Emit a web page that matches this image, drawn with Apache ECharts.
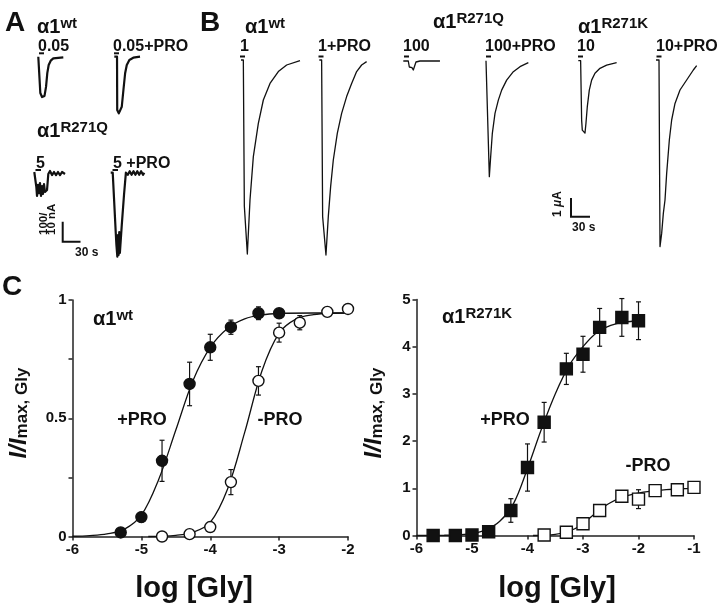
<!DOCTYPE html>
<html><head><meta charset="utf-8">
<script src="https://cdn.jsdelivr.net/npm/echarts@6/dist/echarts.min.js"></script>
<style>html,body{margin:0;padding:0;background:#fff}#c{width:720px;height:603px}</style>
</head><body><div id="c"></div>
<script>
// ---------- Panel C, left (alpha1 wt) ----------
const wtLogGlyPro = [-5.3, -5, -4.7, -4.3, -4, -3.7, -3.3, -3];
const wtRespPro   = [0.017, 0.082, 0.32, 0.645, 0.80, 0.885, 0.944, 0.944];
const wtSemPro    = [0, 0.02, 0.087, 0.092, 0.055, 0.03, 0.027, 0.015];
const wtLogGlyCtl = [-4.7, -4.3, -4, -3.7, -3.3, -3, -2.7, -2.3, -2];
const wtRespCtl   = [0.0, 0.01, 0.04, 0.23, 0.658, 0.862, 0.904, 0.95, 0.962];
const wtSemCtl    = [0, 0, 0, 0.053, 0.06, 0.04, 0.03, 0, 0];
const wtFitXPro = [-6, -5.75, -5.5, -5.25, -5, -4.75, -4.5, -4.25, -4, -3.75, -3.5, -3.25, -3, -2.5, -2];
const wtFitYPro = [0.001, 0.004, 0.011, 0.03, 0.09, 0.24, 0.45, 0.66, 0.8, 0.88, 0.92, 0.937, 0.943, 0.945, 0.945];
const wtFitXCtl = [-4.9, -4.5, -4.25, -4, -3.75, -3.5, -3.25, -3, -2.75, -2.5, -2.25, -2];
const wtFitYCtl = [0.0, 0.005, 0.018, 0.06, 0.2, 0.44, 0.7, 0.86, 0.92, 0.938, 0.944, 0.945];

// ---------- Panel C, right (alpha1 R271K) ----------
const kLogGlyPro = [-5.7, -5.3, -5, -4.7, -4.3, -4, -3.7, -3.3, -3, -2.7, -2.3, -2];
const kRespPro   = [0, 0, 0.01, 0.08, 0.53, 1.44, 2.40, 3.53, 3.84, 4.41, 4.62, 4.55];
const kSemPro    = [0, 0, 0, 0, 0.25, 0.5, 0.42, 0.33, 0.38, 0.4, 0.4, 0.4];
const kLogGlyCtl = [-3.7, -3.3, -3, -2.7, -2.3, -2, -1.7, -1.3, -1];
const kRespCtl   = [0.01, 0.07, 0.25, 0.53, 0.83, 0.77, 0.95, 0.97, 1.02];
const kSemCtl    = [0, 0, 0, 0, 0, 0.2, 0, 0, 0];
const kFitXPro = [-6, -5.5, -5.25, -5, -4.75, -4.5, -4.25, -4, -3.75, -3.5, -3.25, -3, -2.75, -2.5, -2.25, -2];
const kFitYPro = [0, 0.005, 0.015, 0.04, 0.12, 0.3, 0.68, 1.42, 2.25, 3.0, 3.6, 4.0, 4.3, 4.45, 4.52, 4.55];
const kFitXCtl = [-3.9, -3.5, -3.25, -3, -2.75, -2.5, -2.25, -2, -1.75, -1.5, -1.25, -1];
const kFitYCtl = [0, 0.025, 0.09, 0.25, 0.5, 0.7, 0.83, 0.9, 0.94, 0.97, 0.99, 1.0];

// ---------- Panel A traces (time s, current nA) ----------
const aWtT    = [0, 2.7, 3.2, 5.9, 9.8, 12.2, 14.2, 16.4, 19.6, 23.7, 39.5];
const aWtI    = [0, 0, -202, -224, -218, -168, -91, -46, -22, -9, -3.5];
const aWtProT = [0, 4.3, 4.6, 7.1, 11.8, 14.4, 17.1, 19.7, 23.8, 30, 40.6];
const aWtProI = [0, 0, -296, -315, -278, -185, -92, -46, -18, -5.6, 0];
const aQT     = [0, 2.7, 3.2, 4.3, 5.8, 7.4, 9, 10.6, 12.2, 13.7, 15.3, 16.9, 20.1, 22.1, 24.8, 28, 31.1, 34.3, 37.4, 40.6, 43.8, 48.5];
const aQI     = [0, 0, -8.3, -13.3, -7.2, -11.7, -6.1, -13.3, -7.8, -12.2, -6.7, -11.1, -10, -1.1, 0.6, -1.7, 0, -1.7, 0, -1.7, 0, -1.1];
const aQProT  = [0, 3.2, 8, 9, 10.5, 11.5, 12.5, 13.5, 14.5, 17.5, 21, 24, 27, 30, 33, 36, 39, 42, 45, 48, 51, 53];
const aQProI  = [0, 0, -33.5, -40, -46.7, -34.6, -45.7, -33, -44.6, -29, -12.4, 0, -1.2, 0.8, -1.2, 0.8, -1.2, 0.8, -1.2, 0.8, -1.2, 0];

// ---------- Panel B traces (time s, current uA) ----------
const bWtT    = [0, 3.5, 5, 9.5, 13.5, 18.5, 26, 33.5, 43.5, 56, 68.5, 88.5];
const bWtI    = [0, 0, -7.3, -9.7, -7, -4.83, -3.17, -2, -1.17, -0.58, -0.25, -0.03];
const bWtProT = [0, 3.5, 5, 10, 13.5, 17, 21, 27, 33.5, 41, 48.5, 56, 63.5, 71];
const bWtProI = [0, 0, -7.83, -9.75, -7.83, -6.33, -5, -3.67, -2.67, -1.83, -1.17, -0.58, -0.25, -0.08];
const bQT     = [0, 7.5, 9, 13, 15, 17.5, 19, 25, 55];
const bQI     = [0, 0, -0.3, -0.33, -0.45, -0.45, -0.05, 0, 0];
const bQProT  = [0, 2, 5, 7, 9.5, 13.5, 18.5, 23.5, 31, 41, 51, 63.5];
const bQProI  = [0, 0, -5.8, -4.8, -3.63, -2.63, -1.97, -1.47, -0.97, -0.55, -0.3, -0.1];
const bKT     = [0, 3.5, 5, 6, 10, 11.5, 13.5, 16.5, 20, 25, 32.5, 42.5, 57.5];
const bKI     = [0, 0, -2.97, -3.47, -3.62, -3.13, -2.3, -1.47, -0.97, -0.63, -0.38, -0.22, -0.1];
const bKProT  = [0, 4.5, 6, 8.5, 11, 13.5, 16, 20, 23.5, 28.5, 36, 46, 56, 61];
const bKProI  = [0, 0, -9.33, -8.67, -7.67, -7, -5.67, -4, -3, -2.17, -1.5, -1, -0.5, -0.28];

// tick labels
const xTicksLeft = [-6, -5, -4, -3, -2];
const xTicksRight = [-6, -5, -4, -3, -2, -1];
const yLabelsLeft = {0: '0', 0.5: '0.5', 1: '1'};

// ---------------------------------------------------------------
const FONT = '"Liberation Sans", Arial, Helvetica, sans-serif';
const INK = '#111';
const zip = (a, b) => a.map((v, i) => [v, b[i]]);
const errData = (x, y, e) => x.map((v, i) => [v, y[i] - e[i], y[i] + e[i]]).filter((d, i) => e[i] > 0);

const grids = [], xAxes = [], yAxes = [], series = [];

function axisCommon() {
  return {
    axisLine: {show: true, onZero: false, lineStyle: {color: '#222', width: 1.5}},
    axisTick: {show: true, length: 4, inside: false, lineStyle: {color: '#222', width: 1.5}},
    splitLine: {show: false},
    axisLabel: {color: INK, fontWeight: 'bold', fontSize: 15, fontFamily: FONT, margin: 6}
  };
}

// Panel C grids
grids.push({left: 72.5, top: 300, width: 275.5, height: 236.5});
xAxes.push(Object.assign(axisCommon(), {gridIndex: 0, type: 'value', min: xTicksLeft[0], max: xTicksLeft[xTicksLeft.length - 1], interval: 1}));
yAxes.push(Object.assign(axisCommon(), {gridIndex: 0, type: 'value', min: 0, max: 1, interval: 0.25}));
yAxes[0].axisLabel.formatter = v => (yLabelsLeft[v] !== undefined ? yLabelsLeft[v] : '');
grids.push({left: 416.5, top: 299.5, width: 277.5, height: 236});
xAxes.push(Object.assign(axisCommon(), {gridIndex: 1, type: 'value', min: xTicksRight[0], max: xTicksRight[xTicksRight.length - 1], interval: 1}));
yAxes.push(Object.assign(axisCommon(), {gridIndex: 1, type: 'value', min: 0, max: 5, interval: 1}));

function fitLine(idx, x, y) {
  series.push({type: 'line', xAxisIndex: idx, yAxisIndex: idx, data: zip(x, y), showSymbol: false,
    smooth: 0.35, clip: false, lineStyle: {color: INK, width: 1.3}, z: 2, silent: true});
}
function errBars(idx, x, y, e) {
  series.push({type: 'custom', xAxisIndex: idx, yAxisIndex: idx, data: errData(x, y, e), clip: false, z: 3, silent: true,
    renderItem: (params, api) => {
      const p1 = api.coord([api.value(0), api.value(1)]);
      const p2 = api.coord([api.value(0), api.value(2)]);
      const st = {stroke: INK, lineWidth: 1.2};
      const w = 2.5;
      return {type: 'group', children: [
        {type: 'line', shape: {x1: p1[0], y1: p1[1], x2: p2[0], y2: p2[1]}, style: st},
        {type: 'line', shape: {x1: p1[0] - w, y1: p1[1], x2: p1[0] + w, y2: p1[1]}, style: st},
        {type: 'line', shape: {x1: p2[0] - w, y1: p2[1], x2: p2[0] + w, y2: p2[1]}, style: st}
      ]};
    }});
}
function points(idx, x, y, symbol, size, filled) {
  series.push({type: 'scatter', xAxisIndex: idx, yAxisIndex: idx, data: zip(x, y), symbol: symbol, symbolSize: size,
    clip: false, z: 5, silent: true,
    itemStyle: {color: filled ? INK : '#fff', borderColor: INK, borderWidth: 1.4, opacity: 1}});
}
fitLine(0, wtFitXPro, wtFitYPro); fitLine(0, wtFitXCtl, wtFitYCtl);
errBars(0, wtLogGlyPro, wtRespPro, wtSemPro); errBars(0, wtLogGlyCtl, wtRespCtl, wtSemCtl);
points(0, wtLogGlyPro, wtRespPro, 'circle', 11, true); points(0, wtLogGlyCtl, wtRespCtl, 'circle', 11, false);
fitLine(1, kFitXPro, kFitYPro); fitLine(1, kFitXCtl, kFitYCtl);
errBars(1, kLogGlyPro, kRespPro, kSemPro); errBars(1, kLogGlyCtl, kRespCtl, kSemCtl);
points(1, kLogGlyPro, kRespPro, 'rect', 12, true); points(1, kLogGlyCtl, kRespCtl, 'rect', 12, false);

// Trace grids: x0/base are the pixel position of the trace start; sx = s per px, sy = current per px
function trace(t, I, x0, base, sx, sy, lw) {
  const gi = grids.length;
  const tMax = Math.max(...t);
  const iMin = Math.min(...I), iMax = Math.max(0, ...I);
  const pad = 4;
  grids.push({left: x0 - pad, top: base - iMax / sy - pad, width: tMax / sx + 2 * pad, height: (iMax - iMin) / sy + 2 * pad});
  xAxes.push({gridIndex: gi, type: 'value', show: false, min: -pad * sx, max: tMax + pad * sx});
  yAxes.push({gridIndex: gi, type: 'value', show: false, min: iMin - pad * sy, max: iMax + pad * sy});
  series.push({type: 'line', xAxisIndex: gi, yAxisIndex: gi, data: zip(t, I), showSymbol: false, clip: false,
    lineStyle: {color: INK, width: lw, join: 'round'}, silent: true});
}
const sxA = 30 / 19, syAwt = 100 / 18, syAq = 10 / 18;
const sxB = 1.5, syB = 0.05;
trace(aWtT, aWtI, 38.3, 56.7, sxA, syAwt, 2.2);
trace(aWtProT, aWtProI, 114.3, 56.7, sxA, syAwt, 2.2);
trace(aQT, aQI, 34.3, 172, sxA, syAq, 2.2);
trace(aQProT, aQProI, 110.7, 172.7, sxA, syAq, 2.2);
trace(bWtT, bWtI, 241, 60, sxB, syB, 1.3);
trace(bWtProT, bWtProI, 319.3, 60, sxB, syB, 1.3);
trace(bQT, bQI, 403.3, 61, sxB, syB, 1.3);
trace(bQProT, bQProI, 486, 60.7, sxB, syB, 1.3);
trace(bKT, bKI, 578.3, 60.7, sxB, syB, 1.3);
trace(bKProT, bKProI, 656, 60, sxB, syB, 1.3);

// ---------- annotations ----------
const g = [];
function txt(x, y, text, size, opts) {
  opts = opts || {};
  g.push({type: 'text', x: x, y: y, rotation: opts.rot || 0, silent: true, z: 10,
    style: {text: text, fontSize: size, fontWeight: opts.weight || 'bold', fontStyle: opts.style || 'normal',
      fontFamily: FONT, fill: INK, align: opts.align || 'left', verticalAlign: opts.va || 'middle',
      textAlign: opts.align || 'left', textVerticalAlign: opts.va || 'middle', rich: opts.rich}});
}
function line(points, w) {
  g.push({type: 'polyline', silent: true, z: 10, shape: {points: points}, style: {stroke: INK, lineWidth: w, fill: null}});
}
const supRich = (base, sup) => ({
  a: {fontSize: base, fontWeight: 'bold', fontFamily: FONT, fill: INK, lineHeight: base + 2},
  s: {fontSize: sup, fontWeight: 'bold', fontFamily: FONT, fill: INK, lineHeight: 9, verticalAlign: 'top'},
  r: {fontSize: sup, fontWeight: 'bold', fontFamily: FONT, fill: INK, lineHeight: sup + 2, verticalAlign: 'top'}
});
// panel letters
txt(5, 23, 'A', 28); txt(200, 23, 'B', 28); txt(2, 287, 'C', 28);
// construct names
txt(37, 27, '{a|α1}{s|wt}', 20, {rich: supRich(20, 15)});
txt(37, 131, '{a|α1}{r|R271Q}', 20, {rich: supRich(20, 15)});
txt(245, 27, '{a|α1}{s|wt}', 20, {rich: supRich(20, 15)});
txt(433, 22, '{a|α1}{r|R271Q}', 20, {rich: supRich(20, 15)});
txt(578, 27, '{a|α1}{r|R271K}', 20, {rich: supRich(20, 15)});
txt(93, 319, '{a|α1}{s|wt}', 20, {rich: supRich(20, 15)});
txt(442, 317, '{a|α1}{r|R271K}', 20, {rich: supRich(20, 15)});
// application labels + bars
const appLabels = [
  ['0.05', 38, 47, 39, 44, 53.3], ['0.05+PRO', 113, 47, 114, 119, 53.3],
  ['5', 36, 164, 35.5, 41, 170], ['5 +PRO', 113, 164, 112.5, 118, 170],
  ['1', 240, 47, 240, 245, 56.5], ['1+PRO', 318, 47, 318.5, 323.5, 56.5],
  ['100', 403, 47, 404, 409, 56.5], ['100+PRO', 485, 47, 486, 491, 56.5],
  ['10', 577, 47, 578, 583, 56.5], ['10+PRO', 656, 47, 656.5, 661.5, 56.5]
];
appLabels.forEach(l => { txt(l[1], l[2], l[0], 16); line([[l[3], l[5]], [l[4], l[5]]], 2); });
// scale bars
line([[62.7, 221.7], [62.7, 241.7], [80.5, 241.7]], 2);
txt(43.5, 235, '100/', 11.5, {rot: Math.PI / 2, va: 'middle'});
txt(51.5, 235, '10 nA', 11.5, {rot: Math.PI / 2, va: 'middle'});
txt(75, 253, '30 s', 12);
line([[571, 198], [571, 216.7], [590, 216.7]], 2);
txt(558, 217, '{n|1 }{m|μ}{n|A}', 12, {rot: Math.PI / 2, rich: {
  n: {fontSize: 12, fontWeight: 'bold', fontFamily: FONT, fill: INK},
  m: {fontSize: 12, fontWeight: 'bold', fontStyle: 'italic', fontFamily: FONT, fill: INK}}});
txt(572, 228, '30 s', 12);
// panel C annotations
txt(142, 420, '+PRO', 18, {align: 'center'});
txt(280, 420, '-PRO', 18, {align: 'center'});
txt(505, 420, '+PRO', 18, {align: 'center'});
txt(648, 466, '-PRO', 18, {align: 'center'});
txt(194, 589, 'log [Gly]', 29, {align: 'center'});
txt(557, 589, 'log [Gly]', 29, {align: 'center'});
const yNameRich = {
  i: {fontSize: 24, fontWeight: 'bold', fontStyle: 'italic', fontFamily: FONT, fill: INK, lineHeight: 24},
  s: {fontSize: 17, fontWeight: 'bold', fontFamily: FONT, fill: INK, lineHeight: 8, verticalAlign: 'bottom'}
};
txt(19, 413, '{i|I/I}{s|max, Gly}', 24, {rot: Math.PI / 2, align: 'center', rich: yNameRich});
txt(374, 413, '{i|I/I}{s|max, Gly}', 24, {rot: Math.PI / 2, align: 'center', rich: yNameRich});

const chart = echarts.init(document.getElementById('c'), null, {renderer: 'canvas'});
chart.setOption({
  backgroundColor: '#fff',
  animation: false,
  grid: grids,
  xAxis: xAxes,
  yAxis: yAxes,
  series: series,
  graphic: g
});
</script></body></html>
